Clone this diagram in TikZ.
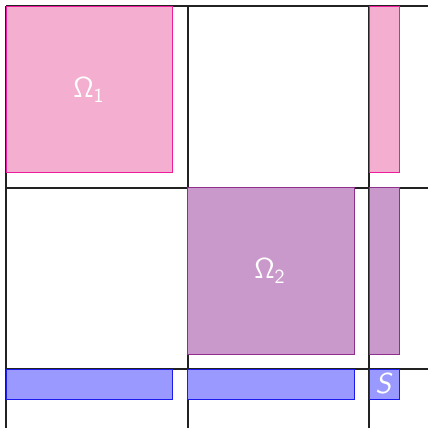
\documentclass[tikz,border=0pt]{standalone}
\definecolor{pinkfill}{HTML}{F4AFD0}
\definecolor{pinkline}{HTML}{EE1C9C}
\definecolor{purpfill}{HTML}{CA99CB}
\definecolor{purpline}{HTML}{8E2F8E}
\definecolor{bluefill}{HTML}{9A99FF}
\definecolor{blueline}{HTML}{1B1BF0}
\definecolor{gridline}{HTML}{222222}
\tikzset{
  gridl/.style={draw=gridline, line width=1pt},
  pinkbox/.style={fill=pinkfill, draw=pinkline, line width=0.5pt},
  purpbox/.style={fill=purpfill, draw=purpline, line width=0.5pt},
  bluebox/.style={fill=bluefill, draw=blueline, line width=0.5pt},
  lbl/.style={text=white, font=\Large, inner sep=0pt}
}
\begin{document}
\begin{tikzpicture}[x=0.5pt, y=-0.5pt]
\useasboundingbox (0,0) rectangle (428,428);
% grid
\foreach \v in {6,187.5,369} {
  \draw[gridl] (\v,6) -- (\v,428);
  \draw[gridl] (6,\v) -- (428,\v);
}
% row 1
\draw[pinkbox] (6,6) rectangle (172,172);
\draw[pinkbox] (369,6) rectangle (399,172);
% row 2
\draw[purpbox] (187.5,187.5) rectangle (354,354);
\draw[purpbox] (369,187.5) rectangle (399,354);
% row 3
\draw[bluebox] (6,369) rectangle (172,399);
\draw[bluebox] (187.5,369) rectangle (354,399);
\draw[bluebox] (369,369) rectangle (399,399);
% labels
\node[lbl] (o1) at (89,90) {$\mathsf{\Omega_1}$};
\node[lbl] (o2) at (270,271) {$\mathsf{\Omega_2}$};
\node[lbl] (s) at (384,384) {\textsf{\itshape S}};
\end{tikzpicture}
\end{document}
